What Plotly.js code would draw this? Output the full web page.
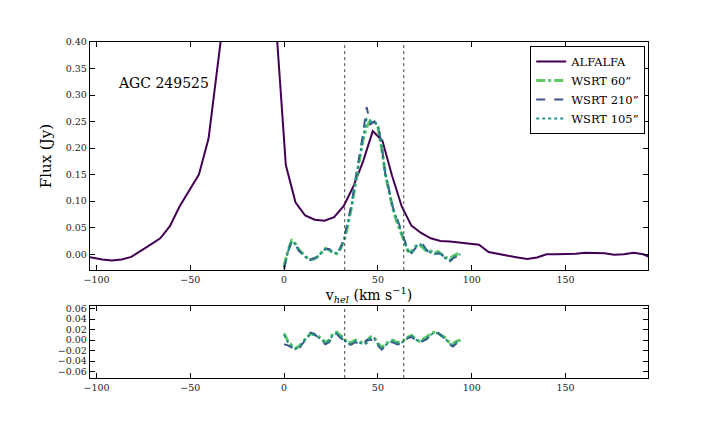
<!DOCTYPE html>
<html>
<head>
<meta charset="utf-8">
<script src="https://cdn.plot.ly/plotly-3.0.1.min.js"></script>
<style>html,body{margin:0;padding:0;background:#fff;}#chart{width:720px;height:432px;}</style>
</head>
<body>
<div id="chart"></div>
<script>
// ALFALFA spectrum (km/s, Jy)
const alfalfaV = [-107.25,-102.1,-96.95,-91.8,-86.65,-81.5,-76.35,-71.2,-66.05,-60.9,-55.75,-50.6,-45.45,-40.3,-35.15,-30,-24.85,-19.7,-14.55,-9.4,-4.25,0.9,6.05,11.2,16.35,21.5,26.65,31.8,36.95,42.1,47.25,52.4,57.55,62.7,67.85,73,78.15,83.3,88.45,93.6,98.75,103.9,109.05,114.2,119.35,124.5,129.65,134.8,139.95,145.1,150.25,155.4,160.55,165.7,170.85,176,181.15,186.3,191.45,196.6];
const alfalfaF = [-0.003,-0.007,-0.010,-0.012,-0.010,-0.005,0.006,0.018,0.030,0.053,0.090,0.121,0.150,0.218,0.372,0.51,0.9,1.1,1.0,0.8,0.43,0.168,0.098,0.073,0.065,0.063,0.070,0.091,0.128,0.175,0.232,0.214,0.148,0.090,0.054,0.040,0.030,0.025,0.024,0.022,0.020,0.018,0.004,0.000,-0.003,-0.006,-0.009,-0.006,0.000,0.000,0.000,0.001,0.003,0.003,0.002,-0.001,0.000,0.003,0.000,-0.008];

// WSRT spectra
const wsrtV = [0,2,4,6,8,10,12,14,16,18,20,22,24,26,28,30,32,34,36,38,40,42,44,46,48,50,52,54,56,58,60,62,64,66,68,70,72,74,76,78,80,82,84,86,88,90,92,94];
const wsrt60 = [-0.022,0.006,0.026,0.020,0.008,0.000,-0.006,-0.010,-0.009,-0.004,0.004,0.011,0.008,0.003,0.001,0.010,0.026,0.055,0.090,0.135,0.175,0.215,0.240,0.252,0.250,0.240,0.200,0.150,0.115,0.085,0.062,0.042,0.022,0.006,0.005,0.015,0.018,0.012,0.006,0.006,0.002,0.005,0.000,-0.006,-0.008,-0.004,0.000,0.002];
const wsrt210 = [-0.028,0.004,0.024,0.018,0.006,-0.001,-0.007,-0.010,-0.008,-0.005,0.003,0.010,0.010,0.004,0.002,0.012,0.030,0.060,0.095,0.140,0.180,0.225,0.277,0.245,0.250,0.245,0.205,0.150,0.120,0.088,0.070,0.048,0.028,0.008,0.002,0.012,0.021,0.018,0.008,0.002,-0.002,0.002,0.000,-0.010,-0.015,-0.008,-0.004,-0.002];
const wsrt105 = [-0.025,0.005,0.025,0.019,0.007,-0.001,-0.007,-0.011,-0.009,-0.004,0.003,0.010,0.009,0.003,0.002,0.011,0.028,0.058,0.092,0.138,0.178,0.220,0.255,0.250,0.250,0.242,0.202,0.152,0.118,0.087,0.066,0.046,0.026,0.007,0.003,0.013,0.020,0.015,0.007,0.003,0.000,0.003,0.000,-0.008,-0.012,-0.006,-0.002,0.000];

// Residuals
const res60 = [0.013,-0.002,-0.010,-0.015,-0.012,-0.003,0.005,0.012,0.011,0.008,0.002,-0.004,0.000,0.012,0.015,0.008,0.003,-0.006,-0.004,0.000,-0.002,-0.006,-0.002,0.006,0.005,-0.006,-0.014,-0.008,-0.002,0.000,-0.004,-0.004,0.000,0.006,0.009,0.003,-0.002,0.002,0.006,0.012,0.015,0.013,0.008,0.004,-0.004,-0.007,-0.002,0.000];
const res210 = [-0.008,-0.010,-0.014,-0.020,-0.016,-0.006,0.004,0.014,0.012,0.004,-0.002,-0.008,-0.004,0.008,0.012,0.004,0.000,-0.010,-0.008,-0.004,-0.006,-0.010,0.000,0.000,0.002,-0.010,-0.018,-0.012,-0.006,-0.004,-0.008,-0.008,-0.004,0.004,0.006,0.000,-0.006,-0.002,0.002,0.008,0.012,0.014,0.008,0.002,-0.008,-0.012,-0.006,-0.004];
const res105 = [0.010,-0.004,-0.012,-0.017,-0.013,-0.004,0.005,0.012,0.010,0.006,0.000,-0.006,-0.002,0.010,0.013,0.006,0.001,-0.008,-0.006,-0.002,-0.004,-0.008,-0.006,0.004,0.004,-0.008,-0.016,-0.010,-0.004,-0.002,-0.006,-0.006,-0.002,0.005,0.008,0.002,-0.004,0.000,0.004,0.010,0.014,0.013,0.008,0.003,-0.006,-0.010,-0.004,-0.002];

const vLines = [32.3, 63.8];
const seriesNames = ['ALFALFA', 'WSRT 60\u201d', 'WSRT 210\u201d', 'WSRT 105\u201d'];
const label = 'AGC 249525';

const C_ALF = '#440154', C_60 = '#5ec962', C_210 = '#3b528b', C_105 = '#21918c';
const FONT = '"DejaVu Serif", serif';

const traces = [
  {x: alfalfaV, y: alfalfaF, name: seriesNames[0], mode: 'lines', line: {color: C_ALF, width: 2}, xaxis: 'x', yaxis: 'y'},
  {x: wsrtV, y: wsrt60, name: seriesNames[1], mode: 'lines', line: {color: C_60, width: 3, dash: 'dashdot'}, xaxis: 'x', yaxis: 'y'},
  {x: wsrtV, y: wsrt210, name: seriesNames[2], mode: 'lines', line: {color: C_210, width: 2, dash: 'dash'}, xaxis: 'x', yaxis: 'y'},
  {x: wsrtV, y: wsrt105, name: seriesNames[3], mode: 'lines', line: {color: C_105, width: 2, dash: 'dot'}, xaxis: 'x', yaxis: 'y'},
  {x: wsrtV, y: res60, mode: 'lines', showlegend: false, line: {color: C_60, width: 3, dash: 'dashdot'}, xaxis: 'x2', yaxis: 'y2'},
  {x: wsrtV, y: res210, mode: 'lines', showlegend: false, line: {color: C_210, width: 2, dash: 'dash'}, xaxis: 'x2', yaxis: 'y2'},
  {x: wsrtV, y: res105, mode: 'lines', showlegend: false, line: {color: C_105, width: 2, dash: 'dot'}, xaxis: 'x2', yaxis: 'y2'}
];

const axCommon = {
  showgrid: false, zeroline: false, showline: true, linecolor: '#000', linewidth: 1.2,
  mirror: 'ticks', ticks: 'inside', ticklen: 5, tickcolor: '#000',
  tickfont: {family: FONT, size: 9.5, color: '#222'}
};

const shapes = [];
vLines.forEach(v => {
  ['y domain', 'y2 domain'].forEach((yr, i) => {
    shapes.push({type: 'line', xref: i === 0 ? 'x' : 'x2', yref: yr, x0: v, x1: v, y0: 0, y1: 1,
      line: {color: '#444', width: 1, dash: 'dot'}});
  });
});

const layout = {
  width: 720, height: 432,
  margin: {l: 90, r: 72, t: 42, b: 54},
  paper_bgcolor: '#fff', plot_bgcolor: '#fff',
  font: {family: FONT, color: '#000'},
  showlegend: true,
  legend: {x: 0.995, y: 0.988, xanchor: 'right', yanchor: 'top', bordercolor: '#000', borderwidth: 1,
    bgcolor: '#fff', font: {family: FONT, size: 11.5}, itemwidth: 30, tracegroupgap: 0},
  xaxis: Object.assign({}, axCommon, {range: [-103.5, 194], domain: [0, 1], anchor: 'y',
    tickvals: [-100, -50, 0, 50, 100, 150],
    title: {text: 'v<sub><i>hel</i></sub> (km s<sup>\u22121</sup>)', font: {family: FONT, size: 14}, standoff: 3}}),
  yaxis: Object.assign({}, axCommon, {range: [-0.03, 0.40], domain: [0.321, 1], anchor: 'x',
    tickvals: [0, 0.05, 0.10, 0.15, 0.20, 0.25, 0.30, 0.35, 0.40], tickformat: '.2f',
    title: {text: 'Flux (Jy)', font: {family: FONT, size: 15}, standoff: 10}}),
  xaxis2: Object.assign({}, axCommon, {range: [-103.5, 194], domain: [0, 1], anchor: 'y2',
    tickvals: [-100, -50, 0, 50, 100, 150]}),
  yaxis2: Object.assign({}, axCommon, {range: [-0.072, 0.064], domain: [0, 0.213], anchor: 'x2',
    tickvals: [-0.06, -0.04, -0.02, 0, 0.02, 0.04, 0.06], tickformat: '.2f'}),
  shapes: shapes,
  annotations: [{x: -89.5, y: 0.323, xref: 'x', yref: 'y', text: label, showarrow: false, xanchor: 'left',
    font: {family: FONT, size: 14, color: '#000'}}]
};

Plotly.newPlot('chart', traces, layout, {displayModeBar: false, staticPlot: true});
</script>
</body>
</html>
